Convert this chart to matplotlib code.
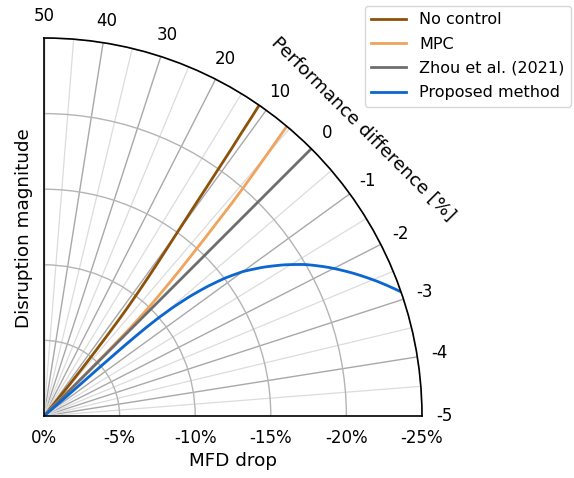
#!/usr/bin/env python3
"""
Performance difference vs MFD drop - quarter polar chart
"""

import matplotlib
matplotlib.use('Agg')
import matplotlib.pyplot as plt
import numpy as np

# MFD drop magnitude (radial axis, shown as negative %)
mfd_drop = [0, 1.25, 2.5, 3.75, 5, 6.25, 7.5, 8.75, 10, 11.25, 12.5,
            13.75, 15, 16.25, 17.5, 18.75, 20, 21.25, 22.5, 23.75, 25]

# Performance difference [%] for each method
no_control = [6.0, 6.3, 6.6, 6.9, 7.2, 7.5, 7.8, 8.1, 8.5, 8.9, 9.3,
              9.7, 10.0, 10.3, 10.5, 10.7, 10.9, 11.0, 11.2, 11.3, 11.45]
mpc = [0.2, 0.2, 0.25, 0.3, 0.35, 0.45, 0.55, 0.8, 1.15, 1.6, 2.05,
       2.5, 2.9, 3.3, 3.65, 3.95, 4.3, 4.65, 5.0, 5.3, 5.6]
zhou = [0, 0, 0, 0, 0, 0, 0, 0, 0, 0, 0,
        0, 0, 0, 0, 0, 0, 0, 0, 0, 0]
proposed = [-0.5, -0.48, -0.45, -0.43, -0.42, -0.42, -0.43, -0.45, -0.49, -0.55, -0.63,
            -0.73, -0.85, -1.0, -1.2, -1.42, -1.66, -1.94, -2.24, -2.55, -2.87]

perf_ticks = [50, 40, 30, 20, 10, 0, -1, -2, -3, -4, -5]
r_ticks = [0, 5, 10, 15, 20, 25]
r_labels = ['0%', '-5%', '-10%', '-15%', '-20%', '-25%']


def perf_to_theta(v):
    """Piecewise-linear angle scale: 0..50 over 45-90 deg, -5..0 over 0-45 deg"""
    v = np.asarray(v, dtype=float)
    deg = np.where(v >= 0, 45 + 0.9 * v, 45 + 9.0 * v)
    return np.deg2rad(deg)


def plot_chart(save_file='out.png'):
    fig = plt.figure(figsize=(5.74, 4.78), dpi=100)
    ax = fig.add_axes([44 / 574, 62 / 478, 378 / 574, 378 / 478], projection='polar')
    ax.set_thetamin(0)
    ax.set_thetamax(90)
    ax.set_rlim(0, 25)

    # grid
    major = perf_to_theta(perf_ticks)
    minor = np.deg2rad(np.arange(4.5, 90, 9))
    ax.set_xticks(major)
    ax.set_xticklabels([str(t) for t in perf_ticks])
    ax.set_xticks(minor, minor=True)
    ax.xaxis.grid(True, which='major', color='#a8a8a8', linewidth=1.0)
    ax.xaxis.grid(True, which='minor', color='#dcdcdc', linewidth=0.9)
    ax.tick_params(axis='x', which='both', length=0, pad=9, labelsize=12)

    ax.set_yticks(r_ticks)
    ax.set_yticklabels(r_labels)
    ax.set_rlabel_position(0)
    ax.yaxis.grid(True, color='#b4b4b4', linewidth=1.0)
    ax.tick_params(axis='y', pad=6, labelsize=12)

    for name, sp in ax.spines.items():
        sp.set_color('black')
        sp.set_linewidth(1.2)

    r = np.array(mfd_drop)
    series = [(no_control, '#8c510a', 'No control'),
              (mpc, '#f0a35c', 'MPC'),
              (zhou, '#6e6e6e', 'Zhou et al. (2021)'),
              (proposed, '#0b66d0', 'Proposed method')]
    for vals, col, lab in series:
        line, = ax.plot(perf_to_theta(vals), r, color=col, linewidth=2, label=lab)
        line.get_path()._interpolation_steps = 20

    # axis titles
    fig.text(233 / 574, 1 - 461 / 478, 'MFD drop', fontsize=13.2, ha='center', va='center')
    fig.text(24 / 574, 1 - 228 / 478, 'Disruption magnitude', fontsize=13.2,
             rotation=90, ha='center', va='center')
    fig.text(363 / 574, 1 - 129 / 478, 'Performance difference [%]', fontsize=13.2,
             rotation=-45, rotation_mode='anchor', ha='center', va='center')

    fig.legend(loc='upper right', bbox_to_anchor=(571 / 574, 1 - 6 / 478),
               fontsize=11.5, handlelength=2.2, labelspacing=0.58,
               borderaxespad=0.0)

    fig.savefig(save_file, dpi=100)


if __name__ == "__main__":
    plot_chart()
